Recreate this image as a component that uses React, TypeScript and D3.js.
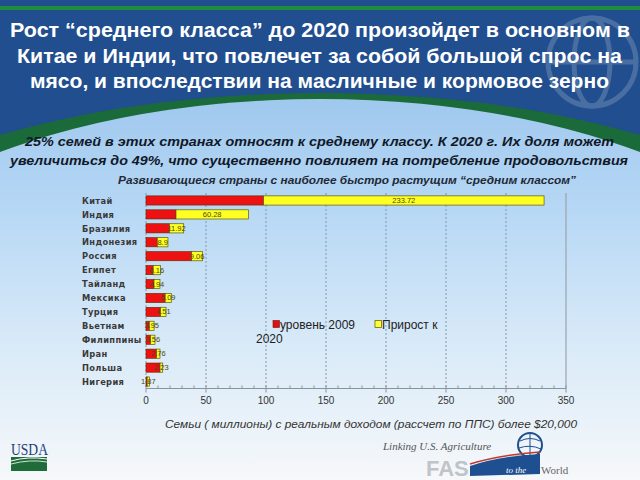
import React from "react";
import * as d3 from "d3";

const categories = ["Китай", "Индия", "Бразилия", "Индонезия", "Россия", "Египет", "Тайланд", "Мексика", "Турция", "Вьетнам", "Филиппины", "Иран", "Польша", "Нигерия"];
const level2009 = [98, 25, 19.5, 9.4, 38, 6, 6.7, 16, 12.2, 2.8, 3.9, 8.9, 11.7, 1];
const growth2020 = [233.72, 60.28, 11.92, 8.9, 9.06, 6.16, 4.94, 5.09, 4.51, 3.95, 3.56, 2.76, 2.23, 1.87];
const xTicks = [0, 50, 100, 150, 200, 250, 300, 350];

const titleLines = [
  "Рост “среднего класса” до 2020 произойдет в основном в",
  "Китае и Индии, что повлечет за собой большой спрос на",
  "мясо, и впоследствии на масличные и кормовое зерно",
];
const subtitleLines = [
  "25% семей в этих странах относят к среднему классу.  К 2020 г. Их доля может",
  "увеличиться до 49%, что существенно повлияет на потребление продовольствия",
];
const chartTitle = "Развивающиеся страны с наиболее быстро растущим “средним классом”";
const axisTitle = "Семьи ( миллионы) с реальным доходом (рассчет по ППС) более $20,000";
const legendLabels = ["уровень 2009", "Прирост к", "2020"];

export default function App() {
  const x = d3.scaleLinear().domain([0, 350]).range([146, 566]);
  const y = d3.scaleBand<string>().domain(categories).range([193.5, 388.5]).paddingInner(0.34).paddingOuter(0.17);
  const minor = d3.range(0, 351, 10);
  const top = 193;
  const bottom = 388.5;

  const titleGeom = [
    { y: 37, x0: 10, x1: 630 },
    { y: 63, x0: 17, x1: 622 },
    { y: 88, x0: 30, x1: 609 },
  ];
  const subGeom = [
    { y: 146, x0: 25, x1: 614 },
    { y: 165, x0: 10, x1: 628 },
  ];

  return (
    <svg width={640} height={480} style={{ position: "absolute", left: 0, top: 0 }}>
      <defs>
        <linearGradient id="lightBg" gradientUnits="userSpaceOnUse" x1="0" y1="97" x2="0" y2="480">
          <stop offset="0" stopColor="#9fc8ee" />
          <stop offset="0.3" stopColor="#b7d8f5" />
          <stop offset="0.65" stopColor="#d9eaf8" />
          <stop offset="1" stopColor="#f6f8fa" />
        </linearGradient>
      </defs>
      <rect x={0} y={0} width={640} height={480} fill="#214e8e" />
      <rect x={0} y={6} width={640} height={4} fill="#1f8c3c" />
      <g opacity={0.18} fill="none" stroke="#ffffff" strokeWidth={5}>
        <circle cx={592} cy={62} r={44} />
        <ellipse cx={592} cy={62} rx={18} ry={44} />
        <line x1={548} y1={62} x2={636} y2={62} />
      </g>
      <ellipse cx={320} cy={327} rx={560} ry={234} fill="#1b6a3a" />
      <ellipse cx={320} cy={349} rx={520} ry={250} fill="url(#lightBg)" />

      {titleLines.map((t, i) => (
        <text key={i} x={titleGeom[i].x0} y={titleGeom[i].y} textLength={titleGeom[i].x1 - titleGeom[i].x0} lengthAdjust="spacingAndGlyphs"
          fontFamily="Liberation Sans Narrow, Liberation Sans, Arial" fontWeight="bold" fontSize={20} fill="#ffffff">{t}</text>
      ))}
      {subtitleLines.map((t, i) => (
        <text key={i} x={subGeom[i].x0} y={subGeom[i].y} textLength={subGeom[i].x1 - subGeom[i].x0} lengthAdjust="spacingAndGlyphs"
          fontFamily="Liberation Sans, Arial" fontStyle="italic" fontWeight="bold" fontSize={13.5} fill="#111827">{t}</text>
      ))}
      <text x={118} y={184} textLength={458} lengthAdjust="spacingAndGlyphs" fontFamily="Liberation Sans, Arial" fontStyle="italic" fontWeight="bold" fontSize={10.5} fill="#1f2937">{chartTitle}</text>

      {xTicks.slice(0, -1).map((t) => (
        <line key={t} x1={x(t)} x2={x(t)} y1={top} y2={bottom} stroke="#8797a8" strokeWidth={1} strokeDasharray="2,2" />
      ))}
      <line x1={x(350)} x2={x(350)} y1={top} y2={bottom} stroke="#9aa3ad" strokeWidth={1.2} />
      <line x1={x(0)} x2={x(350)} y1={bottom} y2={bottom} stroke="#8a949e" strokeWidth={1} />
      {minor.map((t) => (
        <line key={t} x1={x(t)} x2={x(t)} y1={bottom - 3} y2={bottom} stroke="#8a949e" strokeWidth={1} />
      ))}
      {xTicks.map((t) => (
        <g key={t}>
          <line x1={x(t)} x2={x(t)} y1={bottom} y2={bottom + 4} stroke="#8a949e" strokeWidth={1} />
          <text x={x(t)} y={404} textAnchor="middle" fontFamily="Liberation Sans, Arial" fontSize={10} fill="#333">{t}</text>
        </g>
      ))}

      {categories.map((c) => (
        <text key={c} x={82} y={(y(c) as number) + y.bandwidth() / 2 + 3.2} fontFamily="DejaVu Sans, Verdana" fontWeight="bold" fontSize={8.3} letterSpacing={0.35} fill="#3a3a3a">{c}</text>
      ))}

      {categories.map((c, i) => {
        const by = y(c) as number;
        const bh = y.bandwidth();
        const a = level2009[i];
        const g = growth2020[i];
        const cx = (x(a) + x(a + g)) / 2;
        return (
          <g key={c}>
            <rect x={x(0)} y={by} width={x(a) - x(0)} height={bh} fill="#ee1111" stroke="#5a2a00" strokeWidth={0.6} />
            <rect x={x(a)} y={by} width={x(a + g) - x(a)} height={bh} fill="#ffff22" stroke="#5a5a10" strokeWidth={0.7} />
            <text x={cx} y={by + bh / 2 + 2.5} textAnchor="middle" fontFamily="Liberation Sans Narrow, Liberation Sans, Arial" fontSize={7.5} fill="#4a4a10">{g}</text>
          </g>
        );
      })}

      <rect x={273} y={320.5} width={6.5} height={7} fill="#dd1111" stroke="#7a1010" strokeWidth={0.6} />
      <text x={280} y={329} fontFamily="Liberation Sans, Arial" fontSize={12} fill="#222">{legendLabels[0]}</text>
      <rect x={375} y={320.5} width={6.5} height={7} fill="#ffff33" stroke="#6a6a10" strokeWidth={0.8} />
      <text x={382} y={329} fontFamily="Liberation Sans, Arial" fontSize={12} fill="#222">{legendLabels[1]}</text>
      <text x={256} y={343} fontFamily="Liberation Sans, Arial" fontSize={12} fill="#222">{legendLabels[2]}</text>

      <text x={165} y={428} textLength={412} lengthAdjust="spacingAndGlyphs" fontFamily="Liberation Sans, Arial" fontStyle="italic" fontSize={10.5} fill="#333">{axisTitle}</text>

      <text x={11} y={455} fontFamily="Liberation Serif, serif" fontSize={17} fill="#1e3f7a" textLength={37} lengthAdjust="spacingAndGlyphs">USDA</text>
      <rect x={11} y={457} width={36} height={14} fill="#1f6b3a" />
      <path d="M11 461 Q28 456 47 459" stroke="#ffffff" strokeWidth={1} fill="none" />
      <path d="M11 464 Q30 459 47 462" stroke="#ffffff" strokeWidth={0.8} fill="none" />

      <text x={383} y={450} fontFamily="Liberation Serif, serif" fontStyle="italic" fontSize={11} fill="#555">Linking U.S. Agriculture</text>
      <circle cx={530} cy={445} r={12} fill="none" stroke="#1e4f91" strokeWidth={2} />
      <path d="M520 441 Q530 436 540 441 M519 448 Q530 444 541 449 M530 433 L530 457" stroke="#1e4f91" strokeWidth={1} fill="none" />
      <text x={426} y={476} fontFamily="Liberation Sans, Arial" fontWeight="bold" fontSize={22} fill="#bfc4c9">FAS</text>
      <path d="M470 466 Q500 456 540 454 L540 474 L470 476 Z" fill="#1e4f91" />
      <path d="M470 464 Q500 455 540 452" stroke="#c0392b" strokeWidth={1.5} fill="none" />
      <text x={506} y={473} fontFamily="Liberation Serif, serif" fontStyle="italic" fontSize={9} fill="#ffffff">to the</text>
      <text x={541} y={474} fontFamily="Liberation Serif, serif" fontSize={11} fill="#666">World</text>
    </svg>
  );
}
